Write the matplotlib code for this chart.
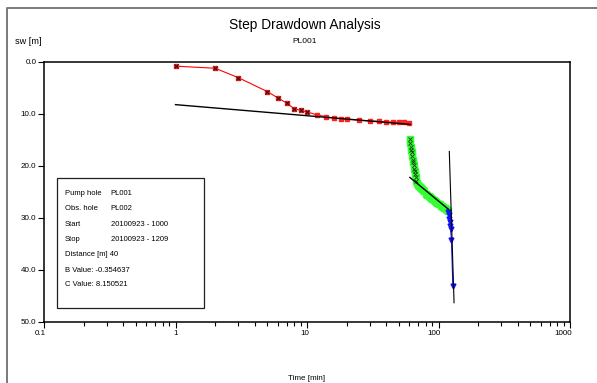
import matplotlib
matplotlib.use('Agg')
import matplotlib.pyplot as plt
from matplotlib.lines import Line2D
from matplotlib.patches import Rectangle
import matplotlib.transforms as mtransforms

plt.rcParams['font.family'] = ['Liberation Sans', 'DejaVu Sans']

# step 1 (red) - first points marked with x, rest plain squares
red_t = [1, 2, 3, 5, 6, 7, 8, 9, 10, 12, 14, 16, 18, 20, 25, 30, 35, 40, 45, 50, 55, 60]
red_s = [0.8, 1.2, 3.0, 5.7, 6.9, 7.9, 9.0, 9.3, 9.6, 10.2, 10.5, 10.8, 10.9, 11.0,
         11.2, 11.35, 11.4, 11.5, 11.55, 11.6, 11.6, 11.7]
red_marked = 9

# step 2 (green)
green_t = [60.2, 60.8, 61.4, 62.0, 62.6, 63.2, 63.8, 64.4, 65.0, 65.6, 66.2, 66.8, 67.4, 68.0,
           69, 70, 71, 72, 73, 74, 75, 76, 78, 80, 82, 84, 86, 88, 90, 92, 94, 96, 98,
           100, 102, 104, 106, 108, 110, 112, 114, 116, 118]
green_s = [14.9, 15.5, 16.3, 16.9, 17.4, 18.1, 18.8, 19.2, 19.8, 20.5, 21.0, 21.6, 22.1, 22.8,
           23.3, 23.6, 23.8, 24.0, 24.2, 24.3, 24.5, 24.7, 24.9, 25.3, 25.5, 25.7, 25.9, 26.1,
           26.3, 26.5, 26.8, 26.9, 27.1, 27.3, 27.4, 27.6, 27.7, 27.8, 28.0, 28.1, 28.2, 28.4, 28.6]
green_marked = 14

# step 3 (blue)
blue_t = [118.5, 119.5, 120.5, 121.5, 122.5, 123.5, 125.5, 128.5]
blue_s = [28.8, 29.4, 30.1, 30.8, 31.5, 32.1, 34.2, 43.0]

# fitted straight lines (end points)
fit1_t = [1, 61]
fit1_s = [8.2, 12.0]
fit2_t = [60.6, 118.8]
fit2_s = [22.2, 28.3]
fit3_t = [120.8, 131.3]
fit3_s = [17.2, 46.3]

xticks = [0.1, 1, 10, 100, 1000]
xtick_labels = ['0.1', '1', '10', '100', '1000']
yticks = [0, 10, 20, 30, 40, 50]

info_keys = ['Pump hole', 'Obs. hole', 'Start', 'Stop']
info_vals = ['PL001', 'PL002', '20100923 - 1000', '20100923 - 1209']
info_extra = ['Distance [m] 40', 'B Value: -0.354637', 'C Value: 8.150521']

W, H = 597, 383
fig = plt.figure(figsize=(W / 100, H / 100), dpi=100)
ax = fig.add_axes([44 / W, 1 - 322 / H, (570 - 44) / W, (322 - 62) / H])

ax.plot(red_t, red_s, color='#ff0000', lw=0.8, marker='s', ms=3.4, mec='#ff2020', mfc='#ff2020', zorder=3)
ax.plot(red_t[:red_marked], red_s[:red_marked], ls='none', marker='x', ms=3.0, mew=0.8,
        color='#301010', zorder=4)

ax.plot(green_t, green_s, color='#00dd00', lw=0.8, marker='s', ms=4.2, mec='#33ff33', mfc='#33ff33', zorder=3)
ax.plot(green_t[:green_marked], green_s[:green_marked], ls='none', marker='x', ms=2.6, mew=0.6,
        color='#104010', zorder=4)

ax.plot(blue_t, blue_s, color='#1010ff', lw=0.8, marker='v', ms=3.5, mec='#1010ff', mfc='#1010ff', zorder=5)

ax.plot(fit1_t, fit1_s, color='black', lw=1.0, zorder=5)
ax.plot(fit2_t, fit2_s, color='black', lw=1.0, zorder=5)
ax.plot(fit3_t, fit3_s, color='black', lw=0.8, zorder=6)

ax.set_xscale('log')
ax.set_xlim(0.1, 1000)
ax.set_ylim(50, 0)
ax.set_xticks(xticks)
ax.set_xticklabels(xtick_labels, ha='right')
ax.set_yticks(yticks)
ax.set_yticklabels(['%.1f' % v for v in yticks])
ax.tick_params(axis='both', which='major', direction='out', length=4, width=0.8, labelsize=5.8, pad=1.5)
ax.tick_params(axis='x', which='minor', direction='out', length=3, width=0.8)
offset = mtransforms.ScaledTranslation(2 / 100, 0, fig.dpi_scale_trans)
for lbl in ax.get_xticklabels():
    lbl.set_transform(lbl.get_transform() + offset)
for sp in ax.spines.values():
    sp.set_linewidth(1.1)

fig.text(305 / W, 1 - 25 / H, 'Step Drawdown Analysis', ha='center', va='center', fontsize=9.9)
fig.text(305 / W, 1 - 41.5 / H, 'PL001', ha='center', va='center', fontsize=6)
fig.text(15 / W, 1 - 41.5 / H, 'sw [m]', ha='left', va='center', fontsize=6.6)
fig.text(307 / W, 1 - 378 / H, 'Time [min]', ha='center', va='center', fontsize=5.8)

# outer frame, top and left only
fig.add_artist(Line2D([7 / W, 7 / W, 1], [0, 1 - 8 / H, 1 - 8 / H], color='#7a7a7a', lw=1.4))

# info box
fig.add_artist(Rectangle((57 / W, 1 - 308 / H), (204 - 57) / W, (308 - 178) / H,
                         transform=fig.transFigure, fill=True, fc='white', ec='#202020', lw=0.9, zorder=10))
row_y = [193.3, 208.7, 224, 239.7]
for k, v, yy in zip(info_keys, info_vals, row_y):
    fig.text(65 / W, 1 - yy / H, k, ha='left', va='center', fontsize=5.5, zorder=11)
    fig.text(110.7 / W, 1 - yy / H, v, ha='left', va='center', fontsize=5.5, zorder=11)
for txt, yy in zip(info_extra, [254.7, 270, 285]):
    fig.text(65 / W, 1 - yy / H, txt, ha='left', va='center', fontsize=5.5, zorder=11)

fig.savefig('out.png', dpi=100)
